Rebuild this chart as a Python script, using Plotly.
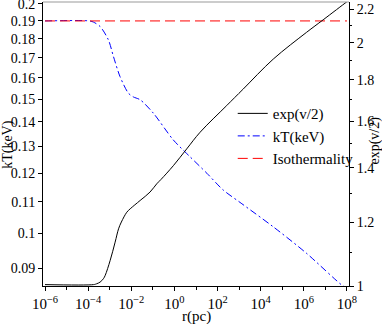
import plotly.graph_objects as go

# kT(keV) profile (left axis)
r_kt = [1e-6, 1.15e-4, 1.78e-4, 3.6e-4, 8.7e-4, 1.5e-3, 3.0e-3, 7.4e-3, 1.26e-2,
        2.6e-2, 0.105, 0.89, 5.2, 32, 182, 1100, 3.8e4, 1.3e6, 6.5e7, 1e8]
kt = [0.19, 0.19, 0.1893, 0.1868, 0.1794, 0.1705, 0.1606, 0.1527, 0.151,
      0.1497, 0.1438, 0.1326, 0.1261, 0.1199, 0.1140, 0.1098, 0.1020, 0.0942, 0.0853, 0.0848]

# exp(v/2) profile (right axis)
r_nu = [1e-6, 1.78e-4, 2.45e-4, 3.55e-4, 5.1e-4, 6.2e-4, 1.05e-3, 1.78e-3, 2.57e-3,
        3.47e-3, 6.2e-3, 8.9e-3, 2.57e-2, 7.4e-2, 0.151, 0.24, 0.89, 3.7, 15.5,
        263, 1550, 3.8e4, 1.32e6, 7.8e6, 9.3e7, 1e8]
exp_nu = [1.004, 1.004, 1.0063, 1.011, 1.021, 1.031, 1.0756, 1.133, 1.177,
          1.200, 1.234, 1.246, 1.276, 1.307, 1.338, 1.355, 1.409, 1.478, 1.550,
          1.672, 1.753, 1.909, 2.060, 2.135, 2.245, 2.248]

# isothermal reference
r_iso = [1e-6, 1e8]
kt_iso = [0.19, 0.19]

kt_ticks = [0.09, 0.1, 0.11, 0.12, 0.13, 0.14, 0.15, 0.16, 0.17, 0.18, 0.19, 0.2]
nu_ticks = [1, 1.2, 1.4, 1.6, 1.8, 2, 2.2]
nu_minor = [1.1, 1.3, 1.5, 1.7, 1.9, 2.1]
r_ticks = [1e-6, 1e-4, 1e-2, 1, 1e2, 1e4, 1e6, 1e8]
r_labels = ["10<sup>−6</sup>", "10<sup>−4</sup>", "10<sup>−2</sup>", "10<sup>0</sup>",
            "10<sup>2</sup>", "10<sup>4</sup>", "10<sup>6</sup>", "10<sup>8</sup>"]
r_minor = [1e-5, 1e-3, 1e-1, 10, 1e3, 1e5, 1e7]

fnt = "Liberation Serif"

fig = go.Figure()
fig.add_trace(go.Scatter(x=r_nu, y=exp_nu, name="exp(v/2)", yaxis="y2", mode="lines",
                         line=dict(color="black", width=1, shape="spline", smoothing=1.0)))
fig.add_trace(go.Scatter(x=r_kt, y=kt, name="kT(keV)", mode="lines",
                         line=dict(color="blue", width=1, dash="7px,3px,2px,3px",
                                   shape="spline", smoothing=0.8)))
fig.add_trace(go.Scatter(x=r_iso, y=kt_iso, name="Isothermality", mode="lines",
                         line=dict(color="red", width=1, dash="10px,5px")))

fig.update_layout(
    width=382, height=324,
    margin=dict(l=43, r=33, t=2, b=38, autoexpand=False),
    plot_bgcolor="white", paper_bgcolor="white",
    font=dict(family=fnt, size=14, color="black"),
    showlegend=True,
    legend=dict(x=0.62, y=0.665, xanchor="left", yanchor="top",
                bgcolor="rgba(0,0,0,0)", font=dict(size=15), itemwidth=30),
    xaxis=dict(type="log", range=[-6.093, 8.093], showgrid=False, zeroline=False,
               showline=True, linecolor="black", linewidth=1, automargin=False,
               ticks="outside", ticklen=4, tickcolor="black",
               tickvals=r_ticks, ticktext=r_labels, tickfont=dict(size=15),
               minor=dict(tickvals=r_minor, ticks="outside", ticklen=3, tickcolor="black")),
    yaxis=dict(type="log", range=[-1.0691, -0.6964], showgrid=False, zeroline=False,
               showline=True, linecolor="black", linewidth=1, automargin=False,
               ticks="outside", ticklen=4, tickcolor="black", ticklabeloverflow="allow",
               tickvals=kt_ticks, ticktext=[str(v) for v in kt_ticks]),
    yaxis2=dict(type="log", range=[0, 0.3515], overlaying="y", side="right",
                showgrid=False, zeroline=False, automargin=False,
                showline=True, linecolor="black", linewidth=1,
                ticks="outside", ticklen=4, tickcolor="black", ticklabeloverflow="allow",
                tickvals=nu_ticks, ticktext=[str(v) for v in nu_ticks],
                minor=dict(tickvals=nu_minor, ticks="outside", ticklen=2, tickcolor="black")),
)

# axis titles
fig.add_annotation(text="r(pc)", xref="paper", yref="paper", x=0.5, y=-0.106,
                   xanchor="center", yanchor="middle", showarrow=False, font=dict(size=15))
fig.add_annotation(text="kT(keV)", xref="paper", yref="paper", x=-0.115, y=0.5,
                   xanchor="center", yanchor="middle",
                   textangle=-90, showarrow=False, font=dict(size=14))
fig.add_annotation(text="exp(v/2)", xref="paper", yref="paper", x=1.0866, y=0.514,
                   xanchor="center", yanchor="middle",
                   textangle=-90, showarrow=False, font=dict(size=14))

# gray frame on top
fig.add_shape(type="line", xref="paper", yref="paper", x0=0, x1=1, y0=1, y1=1,
              line=dict(color="#999999", width=1))

# page has a default body margin; drop it so the figure sits at the window corner
fig.write_html("out.html", config={"displayModeBar": False},
               post_script="document.body.style.margin='0';")
